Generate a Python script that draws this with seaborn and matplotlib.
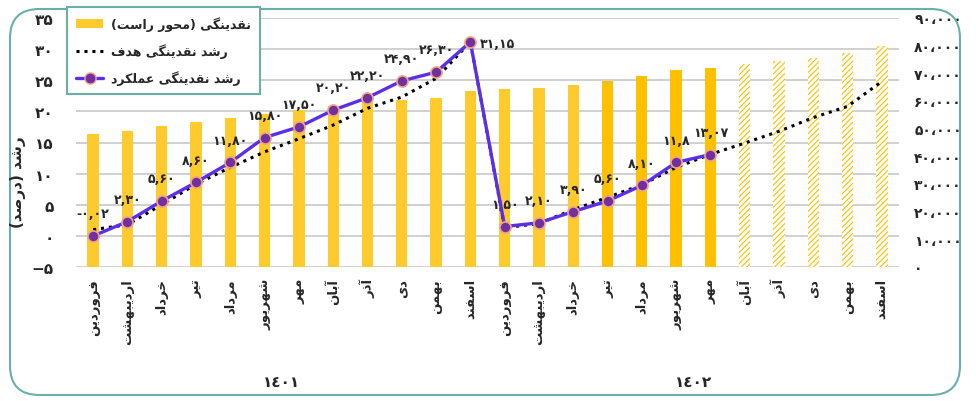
import matplotlib
matplotlib.use('Agg')
import matplotlib.pyplot as plt
import seaborn as sns
import pandas as pd
from matplotlib.patches import Patch, FancyBboxPatch
from matplotlib.lines import Line2D

# ---- data ----
months = ['فروردین', 'اردیبهشت', 'خرداد', 'تیر', 'مرداد', 'شهریور',
          'مهر', 'آبان', 'آذر', 'دی', 'بهمن', 'اسفند']
years = ['١٤٠١', '١٤٠٢']

liquidity = [48000, 49200, 51000, 52500, 54000, 55400, 56600, 58300, 59500, 60300, 61000, 63600,
             64300, 64700, 65800, 67200, 69100, 71200, 72000,
             73500, 74600, 75700, 77200, 79800]
bar_kind = ['light'] * 15 + ['dark'] * 4 + ['plan'] * 5

actual_growth = [-0.02, 2.30, 5.60, 8.60, 11.80, 15.80, 17.50, 20.20, 22.20, 24.90, 26.30, 31.15,
                 1.50, 2.10, 3.90, 5.60, 8.10, 11.8, 13.07]
actual_labels = ['-0,02', '2,30', '5,60', '8,60', '11,80', '15,80', '17,50', '20,20', '22,20',
                 '24,90', '26,30', '31,15', '1,50', '2,10', '3,90', '5,60', '8,10', '11,8', '13,07']

target_growth = [1.0, 1.8, 5.0, 8.3, 11.0, 13.5, 15.6, 17.8, 20.5, 22.3, 25.3, 31.15,
                 1.3, 2.0, 4.2, 6.2, 8.2, 11.0, 13.1, 14.9, 16.8, 19.0, 20.8, 24.8]

left_ticks = [-5, 0, 5, 10, 15, 20, 25, 30, 35]
right_ticks = [0, 10000, 20000, 30000, 40000, 50000, 60000, 70000, 80000, 90000]

# ---- simple persian shaping (matplotlib has no bidi / joining) ----
FORMS = {'ا': (0xFE8D, 2), 'آ': (0xFE81, 2), 'ب': (0xFE8F, 4), 'پ': (0xFB56, 4), 'ت': (0xFE95, 4),
         'ث': (0xFE99, 4), 'ج': (0xFE9D, 4), 'چ': (0xFB7A, 4), 'ح': (0xFEA1, 4), 'خ': (0xFEA5, 4),
         'د': (0xFEA9, 2), 'ذ': (0xFEAB, 2), 'ر': (0xFEAD, 2), 'ز': (0xFEAF, 2), 'ژ': (0xFB8A, 2),
         'س': (0xFEB1, 4), 'ش': (0xFEB5, 4), 'ص': (0xFEB9, 4), 'ض': (0xFEBD, 4), 'ط': (0xFEC1, 4),
         'ظ': (0xFEC5, 4), 'ع': (0xFEC9, 4), 'غ': (0xFECD, 4), 'ف': (0xFED1, 4), 'ق': (0xFED5, 4),
         'ک': (0xFB8E, 4), 'گ': (0xFB92, 4), 'ل': (0xFEDD, 4), 'م': (0xFEE1, 4), 'ن': (0xFEE5, 4),
         'ه': (0xFEE9, 4), 'و': (0xFEED, 2), 'ی': (0xFBFC, 4)}


def fa(s):
    out = []
    for i, ch in enumerate(s):
        if ch not in FORMS:
            out.append(ch)
            continue
        base, n = FORMS[ch]
        prev = s[i - 1] if i > 0 else ''
        nxt = s[i + 1] if i + 1 < len(s) else ''
        jp = prev in FORMS and FORMS[prev][1] == 4
        jn = n == 4 and nxt in FORMS
        if n == 2:
            k = 1 if jp else 0
        elif jp and jn:
            k = 3
        elif jp:
            k = 1
        elif jn:
            k = 2
        else:
            k = 0
        out.append(chr(base + k))
    return ''.join(reversed(out)).translate(str.maketrans('()', ')('))


DIG = str.maketrans('0123456789', '۰۱۲۳۴۵۶۷۸۹')


def fnum(s):
    return s.translate(DIG)


# ---- frames ----
n = len(liquidity)
bars = pd.DataFrame({'pos': range(n), 'value': liquidity, 'kind': bar_kind})
actual = pd.DataFrame({'pos': range(len(actual_growth)), 'growth': actual_growth})
target = pd.DataFrame({'pos': range(len(target_growth)), 'growth': target_growth})

sns.set_style('white')
plt.rcParams['font.family'] = ['DejaVu Sans']
plt.rcParams['font.weight'] = 'bold'
plt.rcParams['hatch.linewidth'] = 2.0

fig = plt.figure(figsize=(9.76, 4.02), dpi=100)
# bottom axes: bars (right-hand scale)
bx = fig.add_axes([76 / 976, 1 - 268 / 402, (899 - 76) / 976, (268 - 19) / 402])
bx.patch.set_visible(False)
# top axes: growth lines (left-hand scale)
ax = bx.twinx()

sns.barplot(data=bars, x='pos', y='value', ax=bx, color='#FFC000', width=0.33,
            order=list(range(n)), saturation=1, edgecolor='none')
colors = {'light': '#FFCA2C', 'dark': '#FFC000', 'plan': '#FFC000'}
for patch, kind in zip(bx.patches, bar_kind):
    patch.set_facecolor(colors[kind])
    patch.set_zorder(2)
    if kind == 'plan':
        patch.set_hatch('//////')
        patch.set_edgecolor('white')
        patch.set_linewidth(0)

bx.set_ylim(0, 90000)
ax.set_ylim(-5, 35)
bx.set_xlim(-0.5, n - 0.5)

# gridlines of the left scale, drawn behind the bars
grid_pos = [(t - left_ticks[0]) / (left_ticks[-1] - left_ticks[0]) * 90000 for t in left_ticks]
bx.hlines(grid_pos, -0.5, n - 0.5, colors='#C8C8C8', linewidth=1.2, zorder=1)

sns.lineplot(data=target, x='pos', y='growth', ax=ax, color='black', lw=2.2,
             linestyle=(0, (1, 1.6)), zorder=3)
sns.lineplot(data=actual, x='pos', y='growth', ax=ax, color='#5B2EEA', lw=2.4,
             marker='o', markersize=8, markerfacecolor='#7030A0',
             markeredgecolor='#F4A582', markeredgewidth=1.2, zorder=4)

for i, (v, lab) in enumerate(zip(actual_growth, actual_labels)):
    if i == 11:
        ax.annotate(fnum(lab), (i, v), xytext=(7, -1), textcoords='offset points',
                    ha='left', va='center', fontsize=9, fontweight='bold')
    else:
        ax.annotate(fnum(lab), (i, v), xytext=(0, 16), textcoords='offset points',
                    ha='center', va='center', fontsize=9, fontweight='bold')

# axes text
bx.set_xticks(range(n))
bx.set_xticklabels([fa(m) for m in months * 2], rotation=90, va='top', ha='center',
                   fontsize=9.5, fontweight='bold')
bx.yaxis.tick_right()
bx.set_yticks(right_ticks)
bx.set_yticklabels([fnum(f'{t:,}').replace(',', '،') for t in right_ticks],
                   fontsize=10, fontweight='bold')
ax.yaxis.tick_left()
ax.set_yticks(left_ticks)
ax.set_yticklabels([('−' + fnum(str(-t))) if t < 0 else fnum(str(t)) for t in left_ticks],
                   fontsize=11, fontweight='bold')
bx.tick_params(axis='x', length=0, pad=8)
bx.tick_params(axis='y', length=0, pad=11)
ax.tick_params(axis='y', length=0, pad=16)
for a in (ax, bx):
    a.set_xlabel('')
    a.set_ylabel('')
    a.grid(False)
    for s in a.spines.values():
        s.set_visible(False)

tr = bx.get_xaxis_transform()
bx.text(5.5, -0.46, years[0], transform=tr, ha='center', va='center', fontsize=11, fontweight='bold')
bx.text(17.5, -0.46, years[1], transform=tr, ha='center', va='center', fontsize=11, fontweight='bold')

fig.text(18 / 976, 1 - 182 / 402, fa('رشد (درصد)'), rotation=90, ha='center', va='center',
         fontsize=11, fontweight='bold')

handles = [Patch(facecolor='#FFCA2C', edgecolor='none'),
           Line2D([], [], color='black', lw=2.2, linestyle=(0, (1, 1.6))),
           Line2D([], [], color='#5B2EEA', lw=2.4, marker='o', markersize=8,
                  markerfacecolor='#7030A0', markeredgecolor='#F4A582')]
labels = [fa('نقدینگی (محور راست)'), fa('رشد نقدینگی هدف'), fa('رشد نقدینگی عملکرد')]
leg = fig.legend(handles, labels, loc='upper left', bbox_to_anchor=(67 / 976, 1 - 8 / 402),
                 borderaxespad=0, frameon=True, fancybox=False, framealpha=1,
                 edgecolor='#6AAFA8', prop={'weight': 'bold', 'size': 9},
                 handlelength=2.2, handletextpad=0.6, labelspacing=1.0, borderpad=0.7)
leg.get_frame().set_linewidth(1.5)

# outer rounded border
fig.patches.append(FancyBboxPatch((10 / 976, 6 / 402), 950 / 976, 386 / 402,
                                  boxstyle='round,pad=0,rounding_size=0.03',
                                  transform=fig.transFigure, fill=False,
                                  edgecolor='#6AAFA8', lw=1.5, mutation_aspect=976 / 402))

fig.savefig('out.png', dpi=100)
